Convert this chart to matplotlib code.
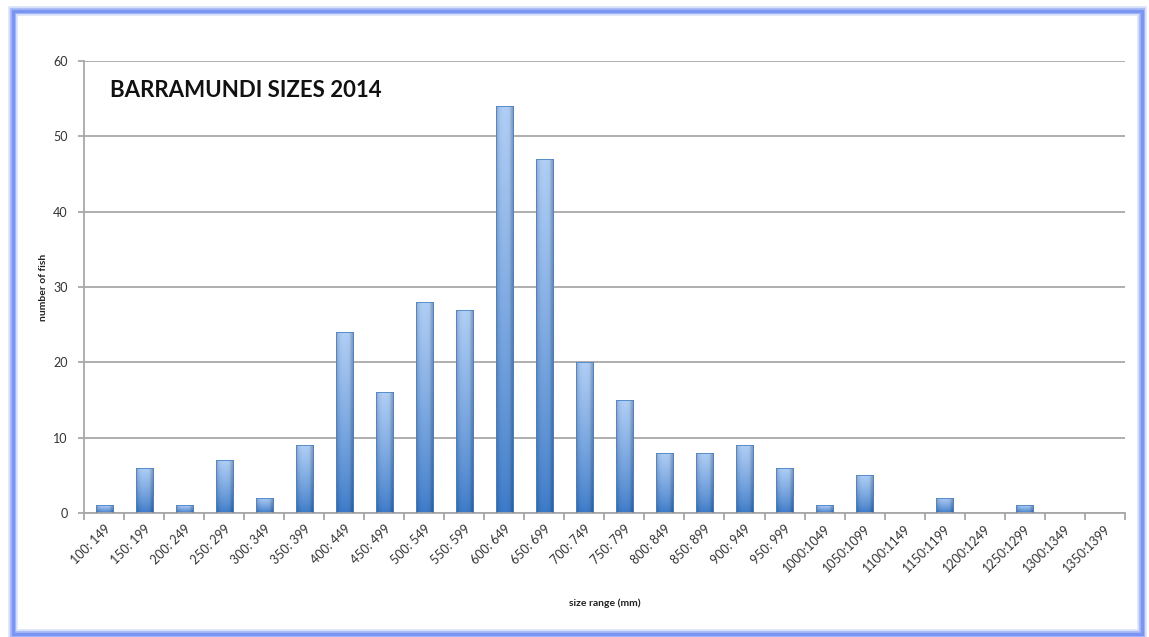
import matplotlib
matplotlib.use("Agg")
import matplotlib.pyplot as plt
import numpy as np
from matplotlib.colors import to_rgb
from matplotlib.patches import Rectangle

plt.rcParams['font.family'] = ['Lato', 'DejaVu Sans']

size_ranges = ['100: 149', '150: 199', '200: 249', '250: 299', '300: 349', '350: 399',
               '400: 449', '450: 499', '500: 549', '550: 599', '600: 649', '650: 699',
               '700: 749', '750: 799', '800: 849', '850: 899', '900: 949', '950: 999',
               '1000:1049', '1050:1099', '1100:1149', '1150:1199', '1200:1249',
               '1250:1299', '1300:1349', '1350:1399']
fish_counts = [1, 6, 1, 7, 2, 9, 24, 16, 28, 27, 54, 47, 20, 15, 8, 8, 9, 6, 1, 5,
               0, 2, 0, 1, 0, 0]
y_ticks = [0, 10, 20, 30, 40, 50, 60]

fig = plt.figure(figsize=(11.49, 6.37), dpi=100)
ax = fig.add_axes([0.0735, 0.1947, 0.9052, 0.7096])

# blue frame round the whole chart
for lw, a in [(7, 0.25), (4.5, 0.5), (2.5, 1.0)]:
    fig.patches.append(Rectangle((0.0115, 0.004), 0.982, 0.978, transform=fig.transFigure,
                                 fill=False, edgecolor='#7b96f2', linewidth=lw, alpha=a,
                                 zorder=0))

x = np.arange(len(size_ranges))
bars = ax.bar(x, fish_counts, width=0.43, color='none', edgecolor='#4a82c6',
              linewidth=0.6, zorder=3)

# shaded fill for each bar: lighter at the top, darker edges
light = np.array(to_rgb('#b0cef6'))
dark = np.array(to_rgb('#3b7ac8'))
ny, nx = 100, 40
t = np.linspace(0, 1, ny)[:, None]
u = np.linspace(-1, 1, nx)[None, :]
edge = 1 - 0.22 * np.abs(u) ** 3 - 0.08 * (u > 0.6)
for b in bars:
    h = b.get_height()
    if h <= 0:
        continue
    w = t[..., None] ** 0.8
    mix = dark[None, None, :] * (1 - w) + light[None, None, :] * w
    img = np.clip(mix * edge[..., None], 0, 1)
    x0 = b.get_x()
    im = ax.imshow(img, extent=(x0, x0 + b.get_width(), 0, h), origin='lower',
                   aspect='auto', zorder=2, interpolation='bilinear')
    im.set_clip_path(b)

ax.set_xlim(-0.5, len(size_ranges) - 0.5)
ax.set_ylim(0, 60)
ax.set_yticks(y_ticks)
ax.yaxis.grid(True, color='#a8a8a8', linewidth=1.3, zorder=0)
ax.set_axisbelow(True)

ax.set_xticks(x)
ax.set_xticklabels(size_ranges, rotation=45, ha='right', rotation_mode='anchor',
                   fontsize=9, color='#333333')
ax.set_xticks(np.arange(-0.5, len(size_ranges)), minor=True)
ax.tick_params(axis='x', which='major', length=0, pad=7)
ax.tick_params(axis='x', which='minor', length=5, color='#a8a8a8', width=1.3)
ax.tick_params(axis='y', length=4, color='#a8a8a8', width=1.3, labelsize=9,
               labelcolor='#333333', pad=8)

for s in ['top', 'right']:
    ax.spines[s].set_visible(False)
for s in ['left', 'bottom']:
    ax.spines[s].set_color('#a8a8a8')
    ax.spines[s].set_linewidth(1.3)

ax.set_ylabel('number of fish', fontsize=7.5, fontweight='bold', color='#222222', labelpad=4)
ax.set_xlabel('size range (mm)', fontsize=7.5, fontweight='bold', color='#222222', labelpad=17)
ax.text(0.025, 0.935, 'BARRAMUNDI SIZES 2014', transform=ax.transAxes, fontsize=16,
        fontweight='bold', color='#111111', va='center', ha='left')

fig.savefig('out.png', dpi=100)
